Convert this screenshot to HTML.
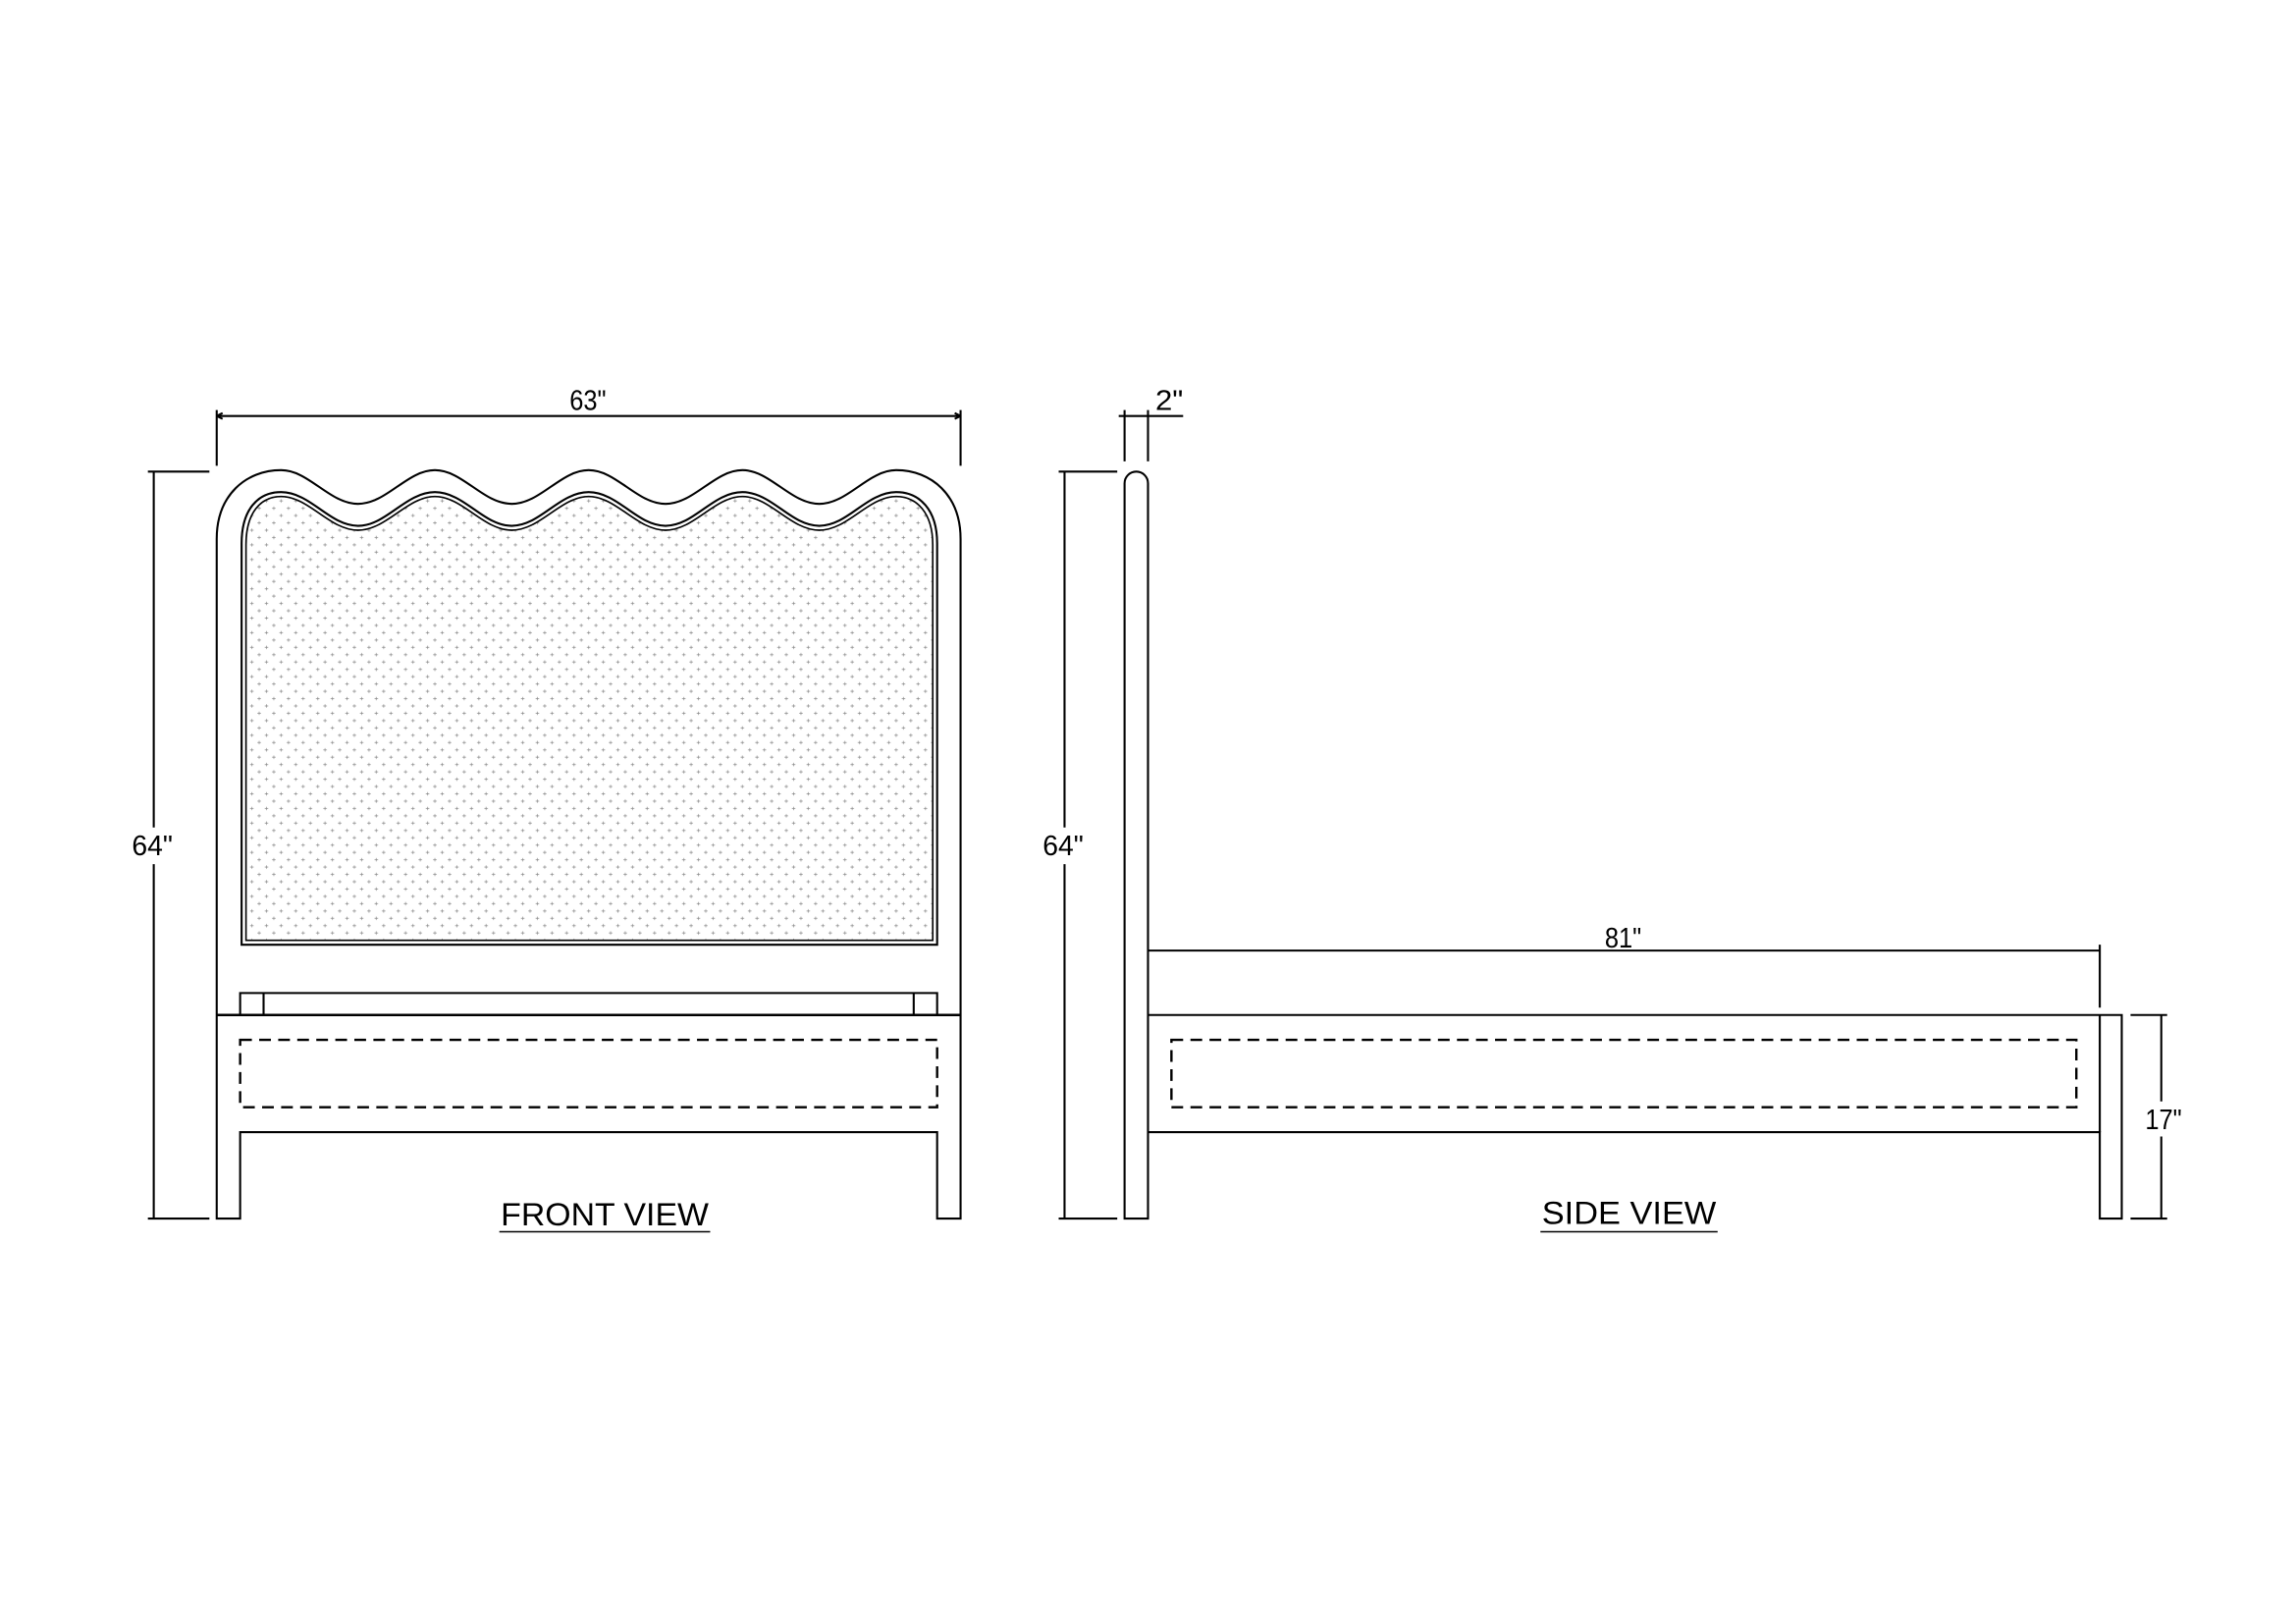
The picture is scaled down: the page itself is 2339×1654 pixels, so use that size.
<!DOCTYPE html>
<html><head><meta charset="utf-8"><style>
html,body{margin:0;padding:0;background:#fff;}
svg{display:block;}
text{font-family:"Liberation Sans",sans-serif;fill:#000;}
</style></head><body>
<svg width="2339" height="1654" viewBox="0 0 1568 1108.8" preserveAspectRatio="none" xmlns="http://www.w3.org/2000/svg">
<defs>
<pattern id="dots" x="0" y="0" width="10" height="10" patternUnits="userSpaceOnUse">
<path d="M2 0.8V3.2M0.8 2H3.2M7 5.8V8.2M5.8 7H8.2" stroke="#888" stroke-width="0.45"/>
</pattern>
<clipPath id="pc"><path d="M168 642 L168 372 C168 350 178 339 192 339 C211 339 225 362 244.5 362 C264 362 278 339 297 339 C316 339 330 362 349.5 362 C369 362 383 339 402 339 C421 339 435 362 454.5 362 C474 362 488 339 507 339 C526 339 540 362 559.5 362 C579 362 593 339 612 339 C626 339 637 350 637 372 L637 642 Z"/></clipPath>
</defs>
<g fill="none" stroke="#000" stroke-width="1.4">
<!-- FRONT VIEW -->
<path d="M148 832 L148 368 C148 338 168 321 192 321 C211 321 225 344 244.5 344 C264 344 278 321 297 321 C316 321 330 344 349.5 344 C369 344 383 321 402 321 C421 321 435 344 454.5 344 C474 344 488 321 507 321 C526 321 540 344 559.5 344 C579 344 593 321 612 321 C636 321 656 338 656 368 L656 832 L640 832 L640 773 L164 773 L164 832 Z"/>
<rect x="168" y="339" width="469" height="303" fill="url(#dots)" stroke="none" clip-path="url(#pc)"/>
<path d="M165 645 L165 371 C165 348 176 336 192 336 C212 336 225 359 244.5 359 C264 359 277 336 297 336 C317 336 330 359 349.5 359 C369 359 382 336 402 336 C422 336 435 359 454.5 359 C474 359 487 336 507 336 C527 336 540 359 559.5 359 C579 359 592 336 612 336 C628 336 640 348 640 371 L640 645 Z"/>
<path d="M168 642 L168 372 C168 350 178 339 192 339 C211 339 225 362 244.5 362 C264 362 278 339 297 339 C316 339 330 362 349.5 362 C369 362 383 339 402 339 C421 339 435 362 454.5 362 C474 362 488 339 507 339 C526 339 540 362 559.5 362 C579 362 593 339 612 339 C626 339 637 350 637 372 L637 642 Z" stroke-width="1.1"/>
<path d="M164 693 L164 678 L640 678 L640 693 M180 678 L180 693 M624 678 L624 693"/>
<path d="M148 693 L656 693" stroke-width="1.7"/>
<rect x="164" y="710" width="476" height="46" stroke-dasharray="8 5" stroke-width="1.6"/>
<!-- 63 dim -->
<path d="M148 284 L656 284 M148 280 L148 318 M656 280 L656 318" />
<path d="M148 284 l4 -2 M148 284 l4 2 M656 284 l-4 -2 M656 284 l-4 2"/>
<!-- 64 dim front -->
<path d="M105 322 L105 565 M105 590 L105 832 M101 322 L143 322 M101 832 L143 832"/>
<!-- SIDE VIEW -->
<path d="M768 832 L768 330 A8 8 0 0 1 784 330 L784 832 Z"/>
<path d="M784 693 L1449 693 L1449 832 L1434 832 L1434 773 L784 773" />
<path d="M1434 693 L1434 773"/>
<rect x="800" y="710" width="618" height="46" stroke-dasharray="8 5" stroke-width="1.6"/>
<!-- 2 dim -->
<path d="M764 284 L808 284 M768 280 L768 315 M784 280 L784 315"/>
<!-- 64 dim side -->
<path d="M727 322 L727 565 M727 590 L727 832 M723 322 L763 322 M723 832 L763 832"/>
<!-- 81 dim -->
<path d="M784 649 L1434 649 M1434 645 L1434 688"/>
<!-- 17 dim -->
<path d="M1476 693 L1476 752 M1476 776 L1476 832 M1455 693 L1480 693 M1455 832 L1480 832"/>
</g>
<g font-size="19">
<text x="389" y="280" textLength="25" lengthAdjust="spacingAndGlyphs">63"</text>
<text x="104" y="584" text-anchor="middle">64"</text>
<text x="726" y="584" text-anchor="middle">64"</text>
<text x="789" y="280" textLength="19" lengthAdjust="spacingAndGlyphs">2"</text>
<text x="1096" y="647" textLength="25" lengthAdjust="spacingAndGlyphs">81"</text>
<text x="1465" y="771" textLength="25" lengthAdjust="spacingAndGlyphs">17"</text>
</g>
<g font-size="21.5">
<text x="342" y="836.5" textLength="142" lengthAdjust="spacingAndGlyphs">FRONT  VIEW</text>
<text x="1053" y="835.5" textLength="119" lengthAdjust="spacingAndGlyphs">SIDE  VIEW</text>
</g>
<path d="M341 841 L485 841 M1052 841 L1173 841" stroke="#000" stroke-width="1"/>
</svg>
</body></html>
